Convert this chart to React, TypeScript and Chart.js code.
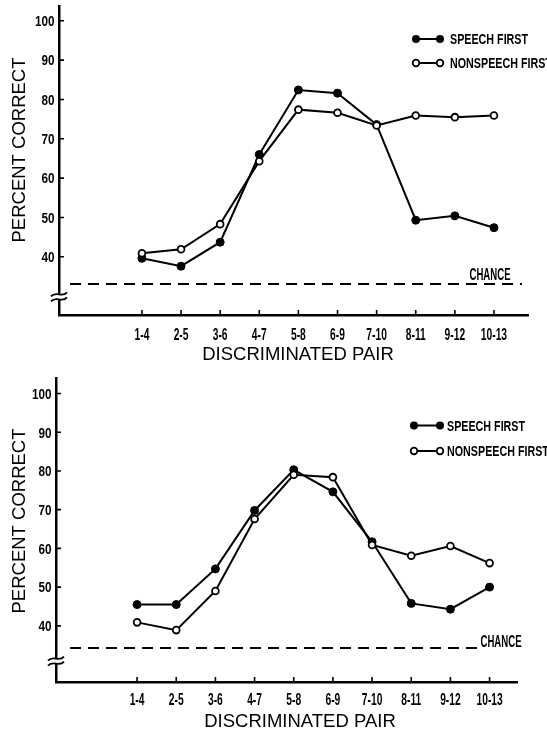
import React, { useEffect, useRef } from 'react';
import { Chart, registerables } from 'chart.js';

Chart.register(...registerables);

// ---------- data ----------
const CATEGORIES = ['1-4', '2-5', '3-6', '4-7', '5-8', '6-9', '7-10', '8-11', '9-12', '10-13'];
const Y_TICKS = [40, 50, 60, 70, 80, 90, 100];
const SERIES_LABELS = ['SPEECH FIRST', 'NONSPEECH FIRST'];

const TOP_SPEECH = [39.6, 37.6, 43.7, 66.0, 82.4, 81.6, 73.6, 49.3, 50.4, 47.4];
const TOP_NONSPEECH = [40.9, 41.9, 48.3, 64.3, 77.4, 76.6, 73.4, 75.9, 75.5, 75.9];
const BOTTOM_SPEECH = [45.5, 45.5, 54.7, 69.8, 80.3, 74.6, 61.7, 45.8, 44.3, 50.0];
const BOTTOM_NONSPEECH = [40.9, 38.9, 49.0, 67.6, 79.0, 78.4, 60.9, 58.1, 60.6, 56.2];

const CHANCE_TOP = 33.1;
const CHANCE_BOTTOM = 34.3;

const Y_TITLE = 'PERCENT CORRECT';
const X_TITLE = 'DISCRIMINATED PAIR';
const CHANCE_LABEL = 'CHANCE';

// ---------- styles / layout ----------
const W = 547;
const H = 366;
const SANS = '"Liberation Sans", Arial, Helvetica, sans-serif';

type PanelCfg = {
  speech: number[];
  nonspeech: number[];
  chance: number;
  area: { left: number; right: number; top: number; bottom: number };
  yMin: number;
  yMax: number;
  xMin: number;
  xMax: number;
  breakValue: number;
  yTitle: [number, number];
  xTitle: [number, number];
  xLabelDy: number;
  legend: { lineX1: number; lineX2: number; textX: number; rows: [number, number] };
  chanceLabel: [number, number];
  chanceFromPx: number;
  chanceToPx: number;
};

const TOP_PANEL: PanelCfg = {
  speech: TOP_SPEECH,
  nonspeech: TOP_NONSPEECH,
  chance: CHANCE_TOP,
  area: { left: 59, right: 528, top: 5, bottom: 315 },
  yMin: 25.2,
  yMax: 103.8,
  xMin: -2.12,
  xMax: 9.87,
  breakValue: 29.8,
  yTitle: [19.5, 150],
  xTitle: [298, 355],
  xLabelDy: 19,
  legend: { lineX1: 416, lineX2: 440, textX: 450, rows: [39, 63] },
  chanceLabel: [490, 274],
  chanceFromPx: 70,
  chanceToPx: 522,
};

const BOTTOM_PANEL: PanelCfg = {
  speech: BOTTOM_SPEECH,
  nonspeech: BOTTOM_NONSPEECH,
  chance: CHANCE_BOTTOM,
  area: { left: 56, right: 517, top: 12, bottom: 316 },
  yMin: 25.5,
  yMax: 104.0,
  xMin: -2.07,
  xMax: 9.7,
  breakValue: 30.9,
  yTitle: [19.5, 155],
  xTitle: [300, 356],
  xLabelDy: 17.5,
  legend: { lineX1: 414, lineX2: 440, textX: 447, rows: [59.5, 85] },
  chanceLabel: [501, 275],
  chanceFromPx: 70,
  chanceToPx: 481,
};

// condensed bold text (no condensed font installed, so squeeze horizontally)
function condensed(
  ctx: CanvasRenderingContext2D,
  text: string,
  x: number,
  yCenter: number,
  size: number,
  sx: number,
  align: CanvasTextAlign,
) {
  ctx.save();
  ctx.translate(x, yCenter + size * 0.716 / 2);
  ctx.scale(sx, 1);
  ctx.font = `bold ${size}px ${SANS}`;
  ctx.textAlign = align;
  ctx.textBaseline = 'alphabetic';
  ctx.fillText(text, 0, 0);
  ctx.restore();
}

const decorPlugin = {
  id: 'decor',
  afterDatasetsDraw(chart: any, _args: any, opts: any) {
    const cfg: PanelCfg = opts.cfg;
    const ctx: CanvasRenderingContext2D = chart.ctx;
    const xs = chart.scales.x;
    const ys = chart.scales.y;
    const { left, bottom } = chart.chartArea;
    ctx.save();
    ctx.strokeStyle = '#000';
    ctx.fillStyle = '#000';

    // inward tick marks
    ctx.lineWidth = 1.6;
    ctx.beginPath();
    ys.ticks.forEach((t: any) => {
      const py = ys.getPixelForValue(t.value);
      ctx.moveTo(left, py);
      ctx.lineTo(left + 5, py);
    });
    xs.ticks.forEach((t: any) => {
      const px = xs.getPixelForValue(t.value);
      ctx.moveTo(px, bottom);
      ctx.lineTo(px, bottom - 5);
    });
    ctx.stroke();

    // tick labels
    ys.ticks.forEach((t: any) => {
      const py = ys.getPixelForValue(t.value);
      const label = t.label != null ? String(t.label) : String(t.value);
      condensed(ctx, label, left - 4.5, py, 15, 0.78, 'right');
    });
    xs.ticks.forEach((t: any) => {
      const px = xs.getPixelForValue(t.value);
      const label = t.label != null && t.label !== '' ? String(t.label) : CATEGORIES[t.value] ?? '';
      condensed(ctx, label, px, bottom + cfg.xLabelDy, 16, 0.64, 'center');
    });

    // chance line
    const cy = ys.getPixelForValue(cfg.chance);
    ctx.lineWidth = 2;
    ctx.setLineDash([11, 7]);
    ctx.beginPath();
    ctx.moveTo(cfg.chanceFromPx, cy);
    ctx.lineTo(cfg.chanceToPx, cy);
    ctx.stroke();
    ctx.setLineDash([]);

    // chance label
    condensed(ctx, CHANCE_LABEL, cfg.chanceLabel[0], cfg.chanceLabel[1], 16, 0.6, 'center');

    // axis break
    const by = ys.getPixelForValue(cfg.breakValue);
    ctx.fillStyle = '#fff';
    ctx.fillRect(left - 3, by - 3, 6, 6);
    ctx.fillStyle = '#000';
    ctx.lineWidth = 1.8;
    [-2.5, 2.5].forEach((k) => {
      ctx.beginPath();
      ctx.moveTo(left - 8, by + k + 2);
      ctx.bezierCurveTo(left - 3, by + k - 4, left + 3, by + k + 4, left + 8, by + k - 2);
      ctx.stroke();
    });

    // legend
    const lg = cfg.legend;
    SERIES_LABELS.forEach((label, i) => {
      const ry = lg.rows[i];
      ctx.lineWidth = 2;
      ctx.strokeStyle = '#000';
      ctx.beginPath();
      ctx.moveTo(lg.lineX1, ry);
      ctx.lineTo(lg.lineX2, ry);
      ctx.stroke();
      [lg.lineX1, lg.lineX2].forEach((px) => {
        ctx.beginPath();
        if (i === 0) {
          ctx.arc(px, ry, 4, 0, Math.PI * 2);
          ctx.fillStyle = '#000';
          ctx.fill();
        } else {
          ctx.arc(px, ry, 3.3, 0, Math.PI * 2);
          ctx.fillStyle = '#fff';
          ctx.fill();
          ctx.lineWidth = 1.8;
          ctx.stroke();
        }
      });
      ctx.fillStyle = '#000';
      condensed(ctx, label, lg.textX, ry, 15, 0.715, 'left');
    });

    // axis titles
    ctx.fillStyle = '#000';
    ctx.font = `18.5px ${SANS}`;
    ctx.textAlign = 'center';
    ctx.textBaseline = 'middle';
    ctx.fillText(X_TITLE, cfg.xTitle[0], cfg.xTitle[1]);
    ctx.save();
    ctx.translate(cfg.yTitle[0], cfg.yTitle[1]);
    ctx.rotate(-Math.PI / 2);
    ctx.fillText(Y_TITLE, 0, 0);
    ctx.restore();

    ctx.restore();
  },
};

function Panel({ cfg }: { cfg: PanelCfg }) {
  const ref = useRef<HTMLCanvasElement>(null);
  useEffect(() => {
    const a = cfg.area;
    const chart = new Chart(ref.current as HTMLCanvasElement, {
      type: 'line',
      data: {
        datasets: [
          {
            label: SERIES_LABELS[1],
            data: cfg.nonspeech.map((y, i) => ({ x: i, y })),
            borderColor: '#000',
            borderWidth: 2,
            pointRadius: 3.4,
            pointBackgroundColor: '#fff',
            pointBorderColor: '#000',
            pointBorderWidth: 1.8,
            tension: 0,
          },
          {
            label: SERIES_LABELS[0],
            data: cfg.speech.map((y, i) => ({ x: i, y })),
            borderColor: '#000',
            borderWidth: 2,
            pointRadius: 4,
            pointBackgroundColor: '#000',
            pointBorderColor: '#000',
            pointBorderWidth: 1,
            tension: 0,
          },
        ],
      },
      options: {
        animation: false,
        responsive: false,
        events: [],
        layout: { padding: { left: 0, right: W - a.right, top: a.top, bottom: 0 } },
        plugins: {
          legend: { display: false },
          tooltip: { enabled: false },
          decor: { cfg },
        } as any,
        scales: {
          x: {
            type: 'linear',
            min: cfg.xMin,
            max: cfg.xMax,
            grid: { display: false },
            border: { display: true, color: '#000', width: 2.5 },
            afterBuildTicks: (s: any) => {
              s.ticks = CATEGORIES.map((_, i) => ({ value: i }));
            },
            afterFit: (s: any) => {
              s.height = H - a.bottom;
              s.paddingLeft = 0;
              s.paddingRight = 0;
            },
            ticks: {
              display: false,
              autoSkip: false,
              maxRotation: 0,
              minRotation: 0,
              callback: (v: any) => CATEGORIES[v as number] ?? '',
            },
          },
          y: {
            type: 'linear',
            min: cfg.yMin,
            max: cfg.yMax,
            grid: { display: false },
            border: { display: true, color: '#000', width: 2.5 },
            afterBuildTicks: (s: any) => {
              s.ticks = Y_TICKS.map((v) => ({ value: v }));
            },
            afterFit: (s: any) => {
              s.width = a.left;
              s.paddingTop = 0;
              s.paddingBottom = 0;
            },
            ticks: {
              display: false,
              callback: (v: any) => String(v),
            },
          },
        },
      },
      plugins: [decorPlugin],
    } as any);
    return () => chart.destroy();
  }, [cfg]);
  return <canvas ref={ref} width={W} height={H} style={{ display: 'block', width: W, height: H }} />;
}

export default function App() {
  return (
    <div style={{ position: 'absolute', left: 0, top: 0, width: W, height: 2 * H, background: '#fff' }}>
      <Panel cfg={TOP_PANEL} />
      <Panel cfg={BOTTOM_PANEL} />
    </div>
  );
}
